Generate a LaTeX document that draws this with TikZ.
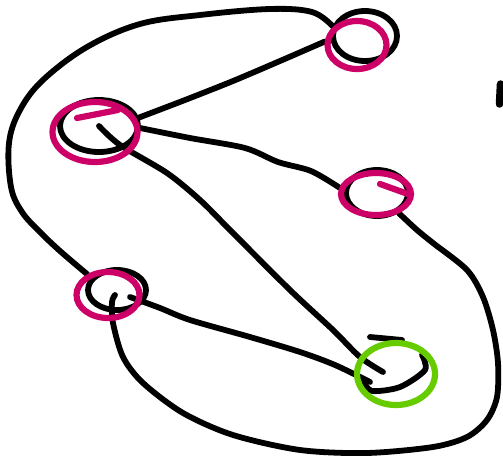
\documentclass[tikz,border=0pt]{standalone}
\usetikzlibrary{shapes.geometric,calc}
\definecolor{mag}{RGB}{204,0,102}
\definecolor{grn}{RGB}{102,204,0}
\pgfdeclarelayer{bg}
\pgfsetlayers{bg,main}
\begin{document}
\begin{tikzpicture}[x=1pt,y=-1pt,
  edge/.style={line width=5.8pt, line cap=round, line join=round},
  bring/.style={ellipse, draw=black, line width=5.8pt, inner sep=0pt},
  mring/.style={ellipse, draw=mag, line width=6.2pt, inner sep=0pt},
  gring/.style={ellipse, draw=grn, line width=6.2pt, inner sep=0pt},
  tail/.style={line width=6.2pt, line cap=round}]
\useasboundingbox (0,0) rectangle (503,460);
% black under-rings
\node[bring, minimum width=64pt, minimum height=50pt] (A2) at (365,36) {};
\node[bring, minimum width=78pt, minimum height=52pt] (B2) at (99,126) {};
\node[bring, minimum width=62pt, minimum height=46pt] (C2) at (377,193) {};
\node[bring, minimum width=58pt, minimum height=40pt] (D2) at (117,290) {};
% coloured rings
\node[mring, minimum width=59pt, minimum height=48pt] (A) at (357,45) {};
\node[mring, minimum width=85pt, minimum height=60pt] (B) at (95,132) {};
\node[mring, minimum width=70pt, minimum height=42pt] (C) at (376,194) {};
\node[mring, minimum width=63pt, minimum height=46pt] (D) at (108,295) {};
\node[gring, minimum width=78pt, minimum height=62pt] (E) at (396,374) {};
% pen strokes on the rings
\draw[tail, mag] (77,118) -- (118,110);
\draw[tail, mag] (380,184) -- (408,194);
\begin{pgfonlayer}{bg}
% partial black stroke of the green node
\draw[edge] (370,337) -- (402,340);
\draw[edge] plot[smooth] coordinates {(364,382) (372,391) (400,387) (425,370) (422,355)};
% connectors
\draw[edge] plot[smooth, tension=0.6] coordinates {(A2.163) (312,12) (270,9) (200,15) (140,24) (87,47) (43,80) (20,110) (9,143) (11,187) (22,212) (40,232) (60,251) (D.135)};
\draw[edge] plot[smooth] coordinates {(A.174) (280,61) (233,81) (185,100) (B.18)};
\draw[edge] plot[smooth] coordinates {(B.5) (190,138) (245,148) (278,162) (311,171) (C.170)};
\draw[edge] plot[smooth] coordinates {(B2.center) (120,145) (167,173) (200,200) (230,230) (290,290) (333,330) (360,357) ($(E.center)+(-13,-2)$)};
\draw[edge] plot[smooth] coordinates {($(D.center)+(22,2)$) (160,308) (190,320) (250,337) (300,352) (335,365) ($(E.center)+(-26,8)$)};
\draw[edge] plot[smooth] coordinates {(C.-40) (417,230) (433,243) (467,270) (483,297) (493,330) (498,363) (497,397) (487,420) (467,437) (433,447) (367,453) (300,450) (233,435) (183,413) (143,383) (123,357) (113,323) (112,302) ($(D.center)+(7,0)$)};
\end{pgfonlayer}
% stray mark at the right edge
\draw[line width=7.5pt, line cap=round] (500.5,84) -- (499.5,104);
\end{tikzpicture}
\end{document}
